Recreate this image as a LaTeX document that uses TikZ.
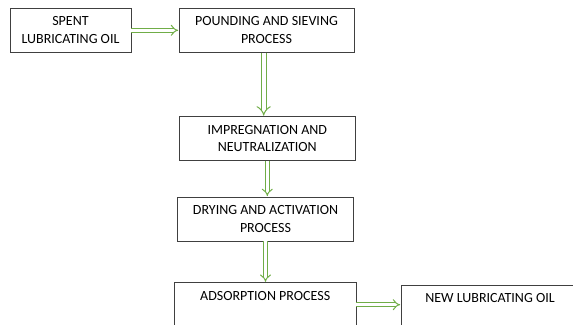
\documentclass[tikz,border=0pt]{standalone}
\usepackage{fontspec}
\setmainfont{Carlito}
\usetikzlibrary{arrows.meta}

\definecolor{flowgreen}{RGB}{112,173,71}

\begin{document}
\begin{tikzpicture}[x=1pt,y=-1pt,
    stage/.style={draw=black!75, line width=0.8pt, align=center, inner sep=0pt,
      minimum height=44pt, font=\fontsize{14}{17.7}\selectfont},
    flow/.style={draw=flowgreen, line width=1pt, double=white, double distance=2.8pt,
      -{Implies[length=2pt]}, shorten >=0.4pt}]
          \useasboundingbox (0,0) rectangle (573,324);
          \node [stage, minimum width=121pt] (spent) at (70.5,30.3) {SPENT\\LUBRICATING OIL};
          \node [stage, minimum width=175pt] (pounding) at (266.5,30.3) {POUNDING AND SIEVING\\PROCESS};
          \node [stage, minimum width=176.5pt] (impreg) at (267.3,138.5) {IMPREGNATION AND\\NEUTRALIZATION};
          \node [stage, minimum width=176.5pt] (drying) at (265.5,218.9) {DRYING AND ACTIVATION\\PROCESS};
          \node [stage, minimum width=181.5pt] (adsorb) at (265.2,304.7) {ADSORPTION PROCESS\\\mbox{}};
          \node [stage, minimum width=178pt] (newoil) at (490,307) {NEW LUBRICATING OIL\\\mbox{}};
          \draw [flow] (spent.east) -- (pounding.west);
          \draw [flow, double distance=4pt] ([xshift=-2.8pt]pounding.south) -- ([xshift=-2.8pt]pounding.south |- impreg.north);
          \draw [flow] (impreg.south) -- (impreg.south |- drying.north);
          \draw [flow] (drying.south) -- (drying.south |- adsorb.north);
          \draw [flow] (adsorb.east) -- (adsorb.east -| newoil.west);
\end{tikzpicture}
\end{document}
